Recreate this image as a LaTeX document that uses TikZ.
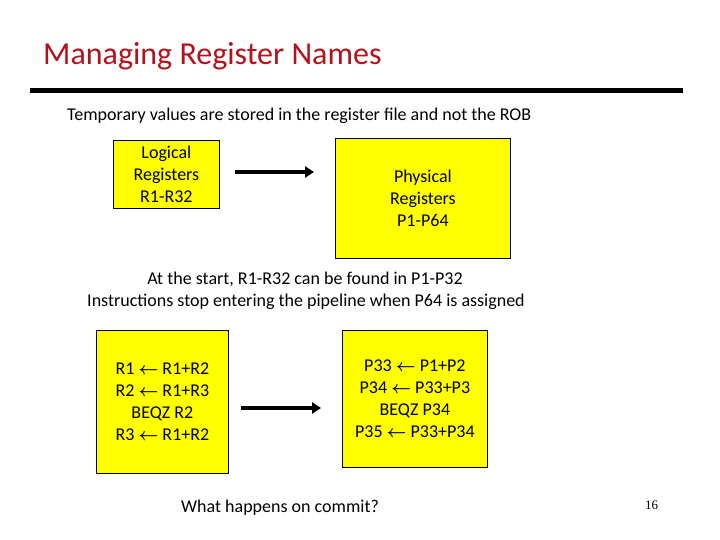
\documentclass[tikz,border=0pt]{standalone}
\usepackage{fontspec}
\setmainfont{Carlito}
\newfontfamily\numfont{Liberation Serif}
\usepackage{xcolor}
\usetikzlibrary{arrows.meta}
\definecolor{titlered}{RGB}{178,18,28}
\definecolor{regyellow}{RGB}{255,255,0}
\newcommand{\getsarrow}{{\boldmath$\leftarrow$}}
\tikzset{
  regbox/.style={draw=black, fill=regyellow, line width=0.8pt, align=center, inner sep=0pt,
    font=\fontsize{18}{22}\selectfont},
  bigarrow/.style={line width=3.5pt, -{Triangle[length=9pt,width=11pt]}},
  body/.style={font=\fontsize{18}{22}\selectfont, align=center, inner sep=0pt}
}

\begin{document}
\begin{tikzpicture}[x=1pt,y=-1pt]
\useasboundingbox (0,0) rectangle (720,540);
\node[anchor=base west, text=titlered, font=\fontsize{32}{36}\selectfont, inner sep=0pt] (Title) at (43,65) {Managing Register Names};
\fill (30,88) rectangle (683,93);
\node[body, anchor=base west] (Note) at (67,121) {Temporary values are stored in the register file and not the ROB};
% top pair of boxes
\node[regbox, minimum width=106pt, minimum height=68pt, anchor=north west] (Logical) at (113,140) {Logical\\Registers\\R1-R32};
\node[regbox, minimum width=175pt, minimum height=120pt, anchor=north west] (Physical) at (335,138) {Physical\\Registers\\P1-P64};
\coordinate (ArrowA) at (235,172);
\coordinate (ArrowB) at (314,172);
\draw[bigarrow] (ArrowA) -- (ArrowB);
\node[body, anchor=base] (Start) at (305,284) {At the start, R1-R32 can be found in P1-P32};
\node[body, anchor=base] (Stop) at (306,306) {Instructions stop entering the pipeline when P64 is assigned};
% bottom pair of boxes
\node[regbox, minimum width=132pt, minimum height=143pt, anchor=north west] (Before) at (96,330)
  {R1 \getsarrow{} R1+R2\\R2 \getsarrow{} R1+R3\\BEQZ R2\\R3 \getsarrow{} R1+R2};
\node[regbox, minimum width=145pt, minimum height=137pt, anchor=north west] (After) at (342,330)
  {P33 \getsarrow{} P1+P2\\P34 \getsarrow{} P33+P3\\BEQZ P34\\P35 \getsarrow{} P33+P34};
\coordinate (ArrowC) at (241,408);
\coordinate (ArrowD) at (321,408);
\draw[bigarrow] (ArrowC) -- (ArrowD);
\node[body, anchor=base west] (Commit) at (181,512) {What happens on commit?};
\node[anchor=base west, font=\numfont\fontsize{13}{15}\selectfont, inner sep=0pt] (PageNo) at (645,509) {16};
\end{tikzpicture}
\end{document}
